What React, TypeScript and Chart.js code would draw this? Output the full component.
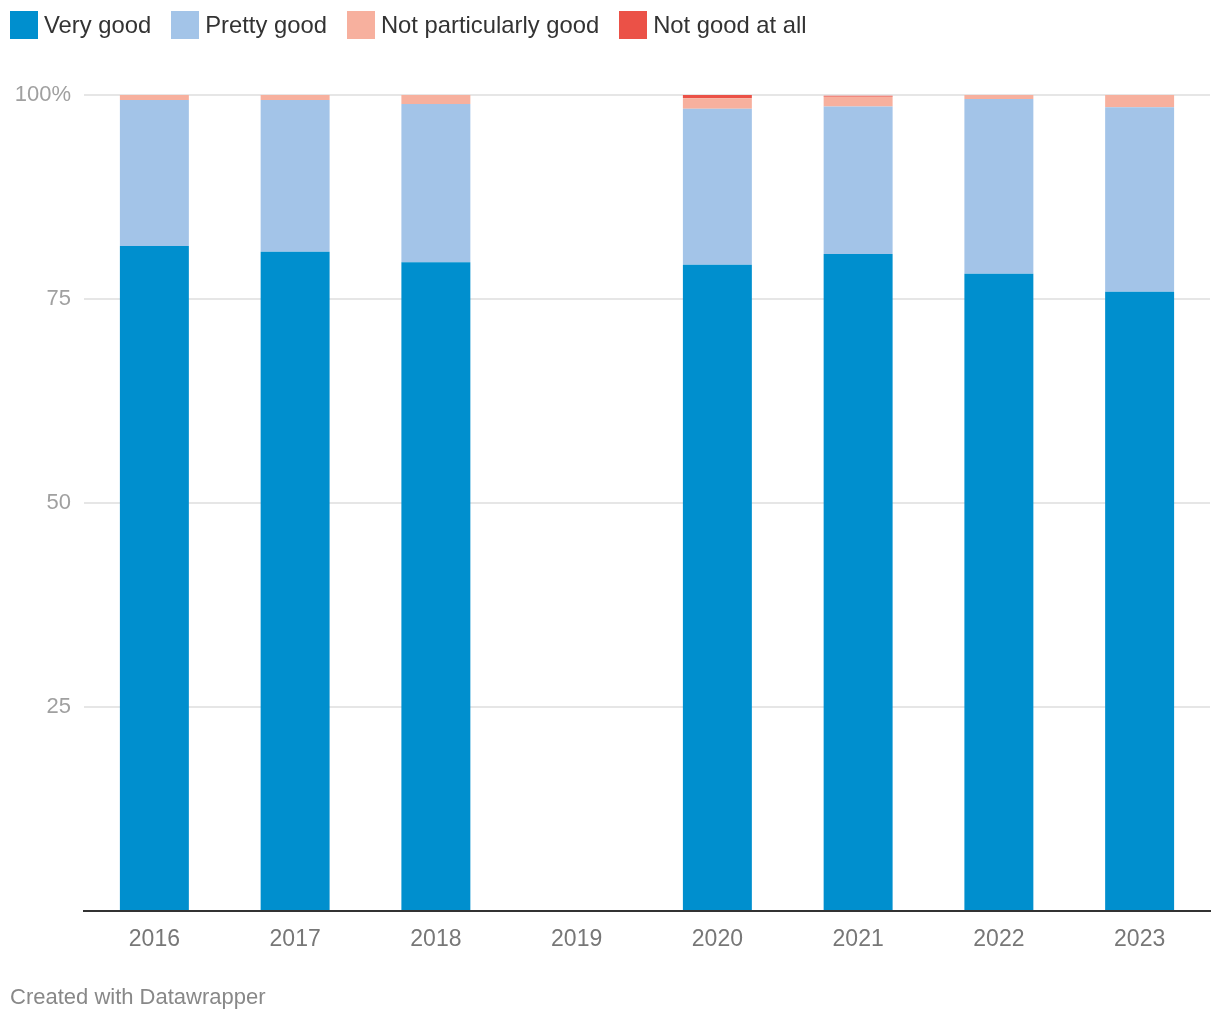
import React, { useEffect, useRef } from "react";
import { Chart, registerables } from "chart.js";

Chart.register(...registerables);

const years = ["2016", "2017", "2018", "2019", "2020", "2021", "2022", "2023"];
const veryGood = [81.5, 80.8, 79.5, null, 79.2, 80.5, 78.1, 75.9];
const prettyGood = [17.9, 18.6, 19.4, null, 19.1, 18.1, 21.4, 22.6];
const notParticularlyGood = [0.6, 0.6, 1.1, null, 1.3, 1.2, 0.6, 1.5];
const notGoodAtAll = [0, 0, 0, null, 0.4, 0.1, 0, 0];

const seriesNames = ["Very good", "Pretty good", "Not particularly good", "Not good at all"];
const seriesColors = ["#008fce", "#a3c4e8", "#f7b09e", "#eb5147"];
const yTicks = [0, 25, 50, 75, 100];

const FONT = "'Liberation Sans', Arial, Helvetica, sans-serif";

export default function App() {
  const ref = useRef<HTMLCanvasElement | null>(null);

  useEffect(() => {
    document.body.style.margin = "0";
    const canvas = ref.current;
    if (!canvas) return;
    const values = [veryGood, prettyGood, notParticularlyGood, notGoodAtAll];
    const chart = new Chart(canvas, {
      type: "bar",
      data: {
        labels: years,
        datasets: values.map((d, i) => ({
          label: seriesNames[i],
          data: d,
          backgroundColor: seriesColors[i],
          borderWidth: 0,
          barPercentage: 0.49,
          categoryPercentage: 1,
        })),
      },
      options: {
        animation: false,
        responsive: false,
        maintainAspectRatio: false,
        layout: { padding: { top: 95, right: 10, bottom: 0, left: 0 } },
        plugins: {
          legend: { display: false },
          tooltip: { enabled: false },
        },
        scales: {
          x: {
            stacked: true,
            grid: { display: false, drawTicks: false },
            border: { display: true, color: "#333333", width: 2 },
            ticks: {
              color: "#777777",
              font: { family: FONT, size: 23 },
              padding: 15,
            },
            afterFit: (s: any) => {
              s.height = 109;
            },
          },
          y: {
            stacked: true,
            min: 0,
            max: 100,
            afterBuildTicks: (s: any) => {
              s.ticks = yTicks.map((v) => ({ value: v }));
            },
            grid: {
              drawTicks: false,
              lineWidth: 2,
              color: (ctx: any) => (ctx.tick && ctx.tick.value === 0 ? "rgba(0,0,0,0)" : "#e6e6e6"),
            },
            border: { display: false },
            ticks: {
              color: "#a0a0a0",
              font: { family: FONT, size: 22 },
              padding: 13,
              callback: (v: any) => (v === 0 ? "" : v === 100 ? "100%" : String(v)),
            },
            afterFit: (s: any) => {
              s.width = 84;
            },
          },
        },
      },
    });
    return () => chart.destroy();
  }, []);

  return (
    <div style={{ position: "relative", width: 1220, height: 1020, fontFamily: FONT, background: "#fff" }}>
      <canvas ref={ref} width={1220} height={1020} style={{ position: "absolute", left: 0, top: 0, width: 1220, height: 1020 }} />
      <div style={{ position: "absolute", left: 10, top: 11, display: "flex", alignItems: "center", gap: 20 }}>
        {seriesNames.map((n, i) => (
          <div key={n} style={{ display: "flex", alignItems: "center" }}>
            <span style={{ display: "inline-block", width: 28, height: 28, background: seriesColors[i], marginRight: 6 }} />
            <span style={{ fontSize: 23.8, color: "#333333", lineHeight: "28px" }}>{n}</span>
          </div>
        ))}
      </div>
      <div style={{ position: "absolute", left: 10, top: 984, fontSize: 22, color: "#888888", lineHeight: "26px" }}>
        Created with Datawrapper
      </div>
    </div>
  );
}
